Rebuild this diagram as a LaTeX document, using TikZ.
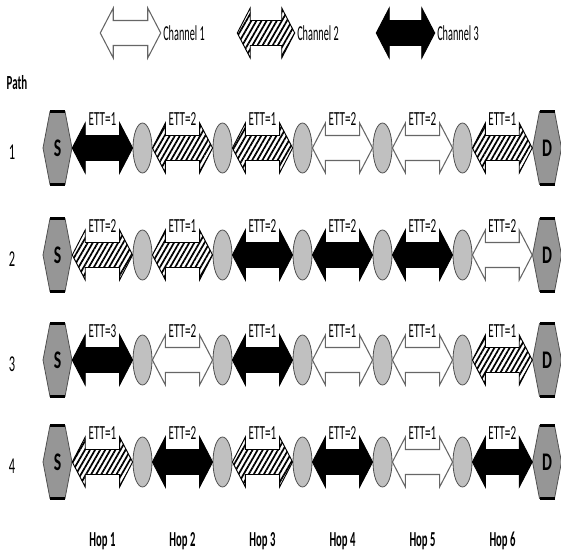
\documentclass[tikz,border=0pt]{standalone}
\usepackage{fontspec}
\setmainfont{Carlito}
\usetikzlibrary{calc, shapes.geometric, patterns.meta}

\definecolor{hexgray}{RGB}{150,150,150}
\definecolor{nodegray}{RGB}{192,192,192}
\definecolor{rimgray}{RGB}{80,80,80}

\newcommand{\sqtext}[2][0.6]{\scalebox{#1}[1]{#2}}

% double arrow body between two nodes
\newcommand{\chanpath}[3]{%
  \draw[#1] (#2.east) -- ++(13,-25) -- ++(0,12.5) -- ($(#3.west)+(-13,-12.5)$) -- ++(0,-12.5)
    -- (#3.west) -- ++(-13,25) -- ++(0,-12.5) -- ($(#2.east)+(13,12.5)$) -- ++(0,12.5) -- cycle;
}
% channel arrow with its ETT value
\newcommand{\chan}[4]{%
  \chanpath{#1}{#2}{#3}
  \node[ettlab] (#3-ett) at ($(#2.east)!.5!(#3.west)+(0,-23)$) {\sqtext[0.56]{#4}};
}
% source / destination hexagon
\newcommand{\hexnode}[3]{%
  \path[hexfill] (#2) ++(-14.5,0) -- ++(7,-36.5) -- ++(15,0) -- ++(7,36.5) -- ++(-7,36.5) -- ++(-15,0) -- cycle;
  \draw[hexrim] (#2) ++(-7.5,-36.5) -- ++(15,0);
  \draw[hexrim] (#2) ++(-7.5,36.5) -- ++(15,0);
  \node[hexlab] (#1) at (#2) {\sqtext[0.62]{#3}};
}

\begin{document}
\begin{tikzpicture}[x=0.75pt, y=-0.75pt,
    relay/.style={ellipse, draw=rimgray, fill=nodegray, line width=0.6pt, minimum width=14.25pt, minimum height=37.5pt, inner sep=0pt},
    hexfill/.style={fill=hexgray, draw=rimgray, line width=0.6pt},
    hexrim/.style={draw=black, line width=1.6pt},
    hexlab/.style={minimum width=21.75pt, minimum height=54.75pt, inner sep=0pt, font=\fontsize{19}{19}\selectfont\bfseries},
    chwhite/.style={draw=black!60, fill=white, line width=0.8pt},
    chhatch/.style={draw=black, line width=0.7pt, preaction={fill=white}, pattern={Lines[angle=60, distance=3.3pt, line width=1.3pt]}},
    chblack/.style={draw=black, fill=black, line width=0.7pt},
    ettlab/.style={anchor=base, inner sep=0pt, font=\fontsize{15}{15}\selectfont},
    leglab/.style={anchor=west, inner sep=0pt, font=\fontsize{16}{16}\selectfont},
    rowlab/.style={inner sep=0pt, font=\fontsize{17}{17}\selectfont},
    hoplab/.style={inner sep=0pt, font=\fontsize{16}{16}\selectfont\bfseries},
    tip/.style={inner sep=0pt, minimum size=0pt}]

    \useasboundingbox (0,0) rectangle (561,553);

    % Legend
    \node[tip] (l1a) at (100,33) {};
    \node[tip] (l1b) at (161,33) {};
    \chanpath{chwhite}{l1a}{l1b}
    \node[leglab] (leg1) at (163,33) {\sqtext[0.48]{Channel 1}};
    \node[tip] (l2a) at (237,33) {};
    \node[tip] (l2b) at (295,33) {};
    \chanpath{chhatch}{l2a}{l2b}
    \node[leglab] (leg2) at (297,33) {\sqtext[0.48]{Channel 2}};
    \node[tip] (l3a) at (376,33) {};
    \node[tip] (l3b) at (435,33) {};
    \chanpath{chblack}{l3a}{l3b}
    \node[leglab] (leg3) at (437,33) {\sqtext[0.48]{Channel 3}};

    \node[rowlab, font=\fontsize{15}{15}\selectfont\bfseries] (pathhead) at (17,83) {\sqtext[0.55]{Path}};

    % Paths: S -- five relays -- D
    \foreach \r/\y/\chans in {
        1/148/{chblack/1,chhatch/2,chhatch/1,chwhite/2,chwhite/2,chhatch/1},
        2/255/{chhatch/2,chhatch/1,chblack/2,chblack/2,chblack/2,chwhite/2},
        3/360/{chblack/3,chwhite/2,chblack/1,chwhite/1,chwhite/1,chhatch/1},
        4/462/{chhatch/1,chblack/2,chhatch/1,chblack/2,chwhite/1,chblack/2}} {
      \node[rowlab] (row\r) at (12,\y+4) {\sqtext[0.55]{\r}};
      \hexnode{p\r-0}{57.5,\y}{S}
      \foreach \k in {1,...,5}
        \node[relay] (p\r-\k) at (62.5+80*\k,\y) {};
      \hexnode{p\r-6}{547,\y}{D}
      \foreach \c/\e [count=\k] in \chans {
        \pgfmathtruncatemacro{\j}{\k-1}
        \chan{\c}{p\r-\j}{p\r-\k}{ETT=\e}
      }
    }

    % Hop labels
    \foreach \k in {1,...,6}
      \node[hoplab] (hop\k) at (22.5+80*\k,541) {\sqtext[0.5]{Hop \k}};

\end{tikzpicture}
\end{document}
